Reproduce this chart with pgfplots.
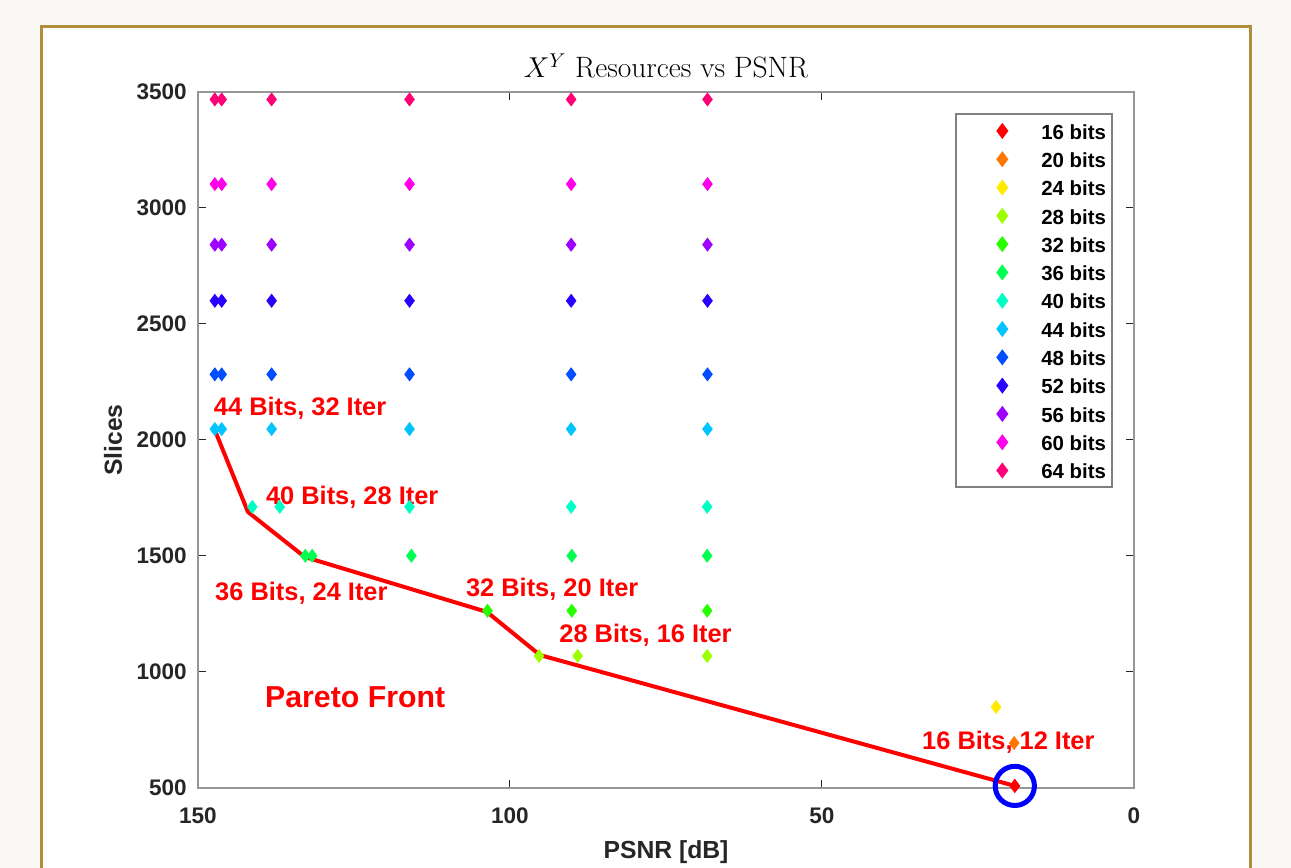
\documentclass[border=0pt]{standalone}
\usepackage{pgfplots}
\pgfplotsset{compat=1.18}
\usepackage{fontspec}
\setmainfont{Liberation Sans}
\newfontfamily\lmroman{Latin Modern Roman}
\definecolor{bg}{RGB}{250,249,245}
\definecolor{framecol}{RGB}{176,142,58}
\definecolor{tickcol}{RGB}{38,38,38}
\definecolor{boxcol}{RGB}{150,150,150}
\definecolor{c16}{HTML}{FF0000}
\definecolor{c20}{HTML}{FF7600}
\definecolor{c24}{HTML}{FFEB00}
\definecolor{c28}{HTML}{9DFF00}
\definecolor{c32}{HTML}{27FF00}
\definecolor{c36}{HTML}{00FF4E}
\definecolor{c40}{HTML}{00FFC4}
\definecolor{c44}{HTML}{00C4FF}
\definecolor{c48}{HTML}{004EFF}
\definecolor{c52}{HTML}{2700FF}
\definecolor{c56}{HTML}{9D00FF}
\definecolor{c60}{HTML}{FF00EB}
\definecolor{c64}{HTML}{FF0076}
\pgfplotsset{
  dm/.style={only marks, mark=diamond*, mark size=3.2bp, color=#1, mark options={draw=#1, fill=#1}},
}
\begin{document}
\begin{tikzpicture}
\useasboundingbox (0,0) rectangle (645.5bp,434bp);
\fill[bg] (0,0) rectangle (645.5bp,434bp);
\begin{scope}
\clip (0,0) rectangle (645.5bp,434bp);
\draw[framecol, line width=1.5bp, fill=white] (20.75bp,-10bp) rectangle (625bp,420.75bp);
\end{scope}
\begin{axis}[
  at={(99bp,40bp)}, anchor=south west,
  scale only axis, width=468bp, height=348bp,
  x dir=reverse,
  xmin=0, xmax=150, ymin=500, ymax=3500,
  xtick={0,50,100,150},
  ytick={500,1000,1500,2000,2500,3000,3500},
  scaled ticks=false,
  /pgf/number format/1000 sep={},
  /pgf/number format/assume math mode=true,
  tick label style={font=\fontsize{11.3}{13}\selectfont\bfseries, text=tickcol},
  xticklabel style={anchor=center, inner sep=0pt, yshift=-14bp},
  yticklabel style={anchor=east, inner sep=0pt, xshift=-5.5bp},
  axis line style={draw=boxcol, line width=1.3bp},
  major tick style={draw=tickcol, line width=0.5bp},
  major tick length=4.2bp,
  tick align=inside,
  title={$X^Y$ Resources vs PSNR},
  every axis title shift=0pt,
  title style={font=\lmroman\fontsize{14.8}{17}\selectfont, at={(axis description cs:0.5,1.0374)}, anchor=center, inner sep=0pt},
  xlabel={PSNR [dB]},
  ylabel={Slices},
  label style={font=\fontsize{12.4}{14}\selectfont\bfseries, text=tickcol},
  xlabel style={at={(axis description cs:0.5,-0.092)}, anchor=center, inner sep=0pt},
  ylabel style={at={(axis description cs:-0.0908,0.5)}, anchor=center, inner sep=0pt, rotate=0},
  legend style={at={(axis description cs:0.9776,0.9698)}, anchor=north east,
    draw={rgb,255:red,128;green,128;blue,128}, line width=1bp, fill=white,
    font=\fontsize{10.25}{12}\selectfont\bfseries,
    inner xsep=3bp, inner ysep=2.7bp, row sep=2.65bp,
    nodes={inner sep=0pt, text height=9.85bp, text depth=1.65bp}},
  legend cell align=left,
  legend image code/.code={\path (-19.5bp,0bp) (19bp,0bp); \draw[#1] plot coordinates {(0bp,0bp)};},
]
\addplot[dm=c16] coordinates {(19.1,509)};
\addlegendentry{16 bits}
\addplot[dm=c20] coordinates {(19.2,694)};
\addlegendentry{20 bits}
\addplot[dm=c24] coordinates {(22.1,849)};
\addlegendentry{24 bits}
\addplot[dm=c28] coordinates {(95.35,1069) (89.15,1069) (68.4,1069)};
\addlegendentry{28 bits}
\addplot[dm=c32] coordinates {(103.6,1264) (90.1,1264) (68.4,1264)};
\addlegendentry{32 bits}
\addplot[dm=c36] coordinates {(132.8,1501) (131.7,1501) (115.8,1501) (90.1,1501) (68.4,1501)};
\addlegendentry{36 bits}
\addplot[dm=c40] coordinates {(141.3,1712) (136.9,1712) (116.1,1712) (90.2,1712) (68.4,1712)};
\addlegendentry{40 bits}
\addplot[dm=c44] coordinates {(147.3,2047) (146.2,2047) (138.2,2047) (116.1,2047) (90.2,2047) (68.35,2047)};
\addlegendentry{44 bits}
\addplot[dm=c48] coordinates {(147.3,2283) (146.2,2283) (138.2,2283) (116.1,2283) (90.2,2283) (68.35,2283)};
\addlegendentry{48 bits}
\addplot[dm=c52] coordinates {(147.3,2600) (146.2,2600) (138.2,2600) (116.1,2600) (90.2,2600) (68.35,2600)};
\addlegendentry{52 bits}
\addplot[dm=c56] coordinates {(147.3,2842) (146.2,2842) (138.2,2842) (116.1,2842) (90.2,2842) (68.35,2842)};
\addlegendentry{56 bits}
\addplot[dm=c60] coordinates {(147.3,3103) (146.2,3103) (138.2,3103) (116.1,3103) (90.2,3103) (68.35,3103)};
\addlegendentry{60 bits}
\addplot[dm=c64] coordinates {(147.3,3468) (146.2,3468) (138.2,3468) (116.1,3468) (90.2,3468) (68.35,3468)};
\addlegendentry{64 bits}
\addplot[forget plot, red, line width=2bp, mark=none] coordinates {(147.2,2036) (142.0,1690) (132.9,1496) (103.7,1259) (95.2,1073) (19.1,509)};
\addplot[forget plot, dm=c16] coordinates {(19.1,509)};
\addplot[forget plot, only marks, mark=o, mark size=9.8bp, mark options={draw=blue, line width=2.5bp}] coordinates {(19.1,509)};
\begin{scope}[every node/.style={anchor=west, inner sep=0pt, text=red, font=\fontsize{12.75}{14}\selectfont\bfseries}]
\node at (axis cs:147.5,2136) {44 Bits, 32 Iter};
\node at (axis cs:139.15,1755) {40 Bits, 28 Iter};
\node at (axis cs:147.3,1339) {36 Bits, 24 Iter};
\node at (axis cs:107.1,1356) {32 Bits, 20 Iter};
\node at (axis cs:92.15,1160) {28 Bits, 16 Iter};
\node at (axis cs:34.0,699) {16 Bits, 12 Iter};
\node[font=\fontsize{15.2}{17}\selectfont\bfseries] at (axis cs:139.3,892) {Pareto Front};
\end{scope}
\end{axis}
\end{tikzpicture}
\end{document}
